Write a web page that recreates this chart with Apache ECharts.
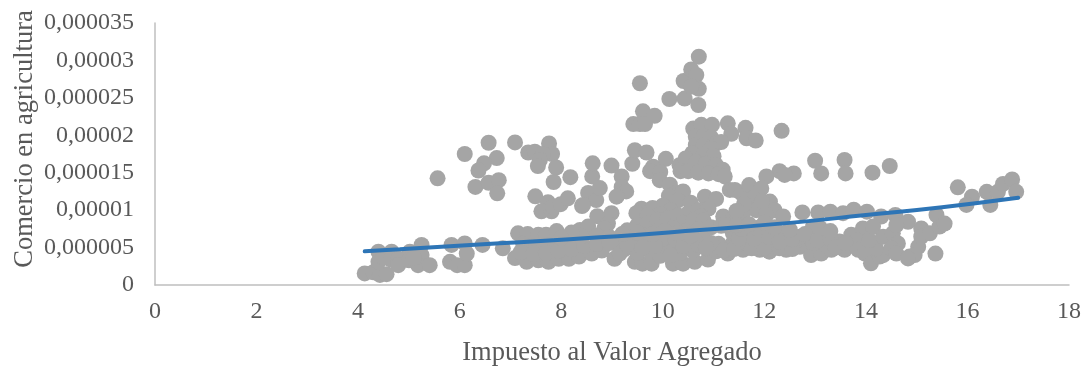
<!DOCTYPE html>
<html lang="es">
<head>
<meta charset="UTF-8">
<title>Comercio en agricultura</title>
<style>
html, body { margin: 0; padding: 0; background: #fff; }
#chart { width: 1085px; height: 367px; }
</style>
<script src="https://cdn.jsdelivr.net/npm/echarts@6/dist/echarts.min.js"></script>
</head>
<body>
<div id="chart"></div>
<script>
// [IVA, comercio in millionths]
var leftPoints = [[4.13,1.55],[4.3,1.7],[4.43,1.35],[4.56,1.45],[4.4,4.45],[4.66,4.45],[4.4,3.1],[4.5,3.7],[4.65,3.4],[4.8,3.5],[4.79,2.65],[5.02,4.45],[5,3.3],[5.25,5.35],[5.25,4],[5.18,2.65],[5.41,2.65],[5.1,3.6],[5.84,5.35],[6.1,5.55],[5.81,3.1],[5.95,2.65],[6.1,2.65],[6.14,4.2],[6.45,5.35],[6.85,4.9]];
var sparsePoints = [[5.565,14.25],[6.1,17.5],[6.57,19],[7.09,19.05],[6.73,16.96],[6.48,16.25],[6.37,15.3],[6.31,13.1],[6.57,13.66],[6.77,14],[6.74,12.25],[7.35,17.7],[7.48,17.8],[7.76,18.9],[7.82,17.5],[7.64,17.5],[7.58,16.7],[7.54,15.9],[7.9,15.7],[7.85,13.76],[8.18,14.4],[7.49,11.85],[7.74,11.05],[7.61,9.84],[7.81,9.84],[7.84,10.46],[7.99,10.8],[8.13,11.58],[8.41,10.55],[8.53,12.3],[8.61,14.5],[8.62,16.25],[8.69,11.35],[8.76,12.95],[8.99,15.95],[9.19,14.5],[9.19,13.1],[9.28,12.5],[9.09,11.8],[8.43,10.7],[8.99,9.6],[8.71,9.2],[8.92,8.2],[9.4,16.2],[9.55,26.95],[9.61,23.2],[9.84,22.6],[9.42,21.5],[9.55,21.5],[9.65,21.5],[9.45,18],[9.68,17.7],[9.81,15.8],[10.06,16.85],[10.13,24.85],[10.43,24.9],[10.41,27.25],[10.56,28.8],[10.66,28.05],[10.71,30.5],[10.71,26.2],[10.56,26.5],[10.7,24.05],[12.34,20.6],[13,16.6],[13.12,14.9],[13.58,16.7],[13.6,14.9],[14.13,15],[14.47,15.9],[12.58,14.9],[12.3,15.2],[12.4,14.7],[12.04,14.5],[11.28,21.6],[11.35,20.2],[11.63,21],[11.65,19.6],[11.83,19.3]];
var peakPoints = [[10.6,20.9],[10.76,21.4],[10.97,21.4],[10.65,19.8],[10.8,19.9],[10.95,19.7],[11.05,18.9],[11.15,19.1],[10.65,18.7],[10.8,18.6],[10.95,18.2],[10.58,17.6],[10.8,17.4],[11,17.2],[10.33,16],[10.45,16.9],[10.65,16.4],[10.85,16.2],[11.05,16],[11.18,15.4],[10.35,15.2],[10.5,15.2],[10.7,15],[10.9,14.9],[11.1,14.8],[11.22,14.5],[9.75,15.2],[9.95,15.1],[9.94,14],[10.14,13.4],[10.27,12.3],[10.4,12.5],[10.12,11.9]];
var upperBand = [[10.83,11.8],[11.05,11.5],[10.3,11.3],[10.55,11],[11.32,12.7],[11.42,12.7],[11.55,12.25],[11.7,13.35],[11.94,12.9],[11.78,11.6],[12.11,11.15],[12.2,10],[12.37,9.15],[11.19,9.15],[11.35,8.7],[11.58,9.6],[11.84,10],[12.04,9.35],[11.6,10.8],[11.45,9.9],[11.95,11.2],[12.75,9.7],[13.06,9.7],[13.3,9.8],[13.55,9.6],[13.76,10.05],[14.02,9.8],[14.3,9.15],[14.58,9.35],[14.83,8.45],[9.58,10.2],[9.48,9.6],[9.8,10.3],[10,10.6],[10.15,10],[9.95,9.5],[9.7,9.3]];
var coreUpper = [[9.3,7.3],[9.5,8],[9.7,8.2],[9.9,8.7],[10.1,8.9],[10.3,9.3],[10.5,9.6],[10.7,10],[10.9,10.2],[10.75,9.2],[10.4,8.3],[10.6,8.6],[10.8,8.6],[10.2,7.6],[10.45,7.2],[10.7,7.4],[10.95,7.7],[11.15,7.9],[9.9,7.2],[9.6,6.6],[9.35,6.2],[9.15,5.9],[8.85,7.55],[8.5,7.1]];
var lowerBand = [[7.15,6.9],[7.34,6.8],[7.55,6.7],[7.7,6.7],[7.91,7.2],[7.25,5.5],[7.5,5.2],[7.75,5.3],[8,5.5],[8.2,6],[8.37,7.35],[8.53,7.8],[8.7,6.6],[8.95,6.4],[7.09,3.6],[7.32,3.1],[7.55,3.3],[7.75,3.1],[7.95,3.5],[8.15,3.5],[8.35,3.8],[8.6,4.2],[8.8,4.6],[7.2,4.4],[7.45,4.2],[7.7,4.3],[7.95,4.6],[8.2,4.8],[8.45,5.2],[8.7,5.5],[8.95,5.6],[9.05,3.5],[9.25,4.8],[9.45,3.1],[9.6,2.85],[9.78,2.85],[9.5,4.3],[9.75,4.6],[9.95,3.9],[10.2,2.85],[10.4,2.85],[10.63,3.1],[10.89,3.4],[10.1,5],[10.35,4.3],[10.6,4.6],[10.85,4.9],[11.05,4.5],[11.28,4.2],[11.58,4.7],[11.91,4.7],[12.1,4.45],[12.43,4.7],[12.7,5.1],[12.92,4],[13.12,4.2],[13.32,4.7],[13.58,4.7],[9.4,5.6],[9.7,5.8],[10,6.2],[10.25,6],[10.55,5.9],[10.8,6.1],[11.1,5.5],[11.38,5.6],[11.65,5.6],[11.95,5.7],[12.2,5.5],[12.45,5.6],[12.65,6],[11.38,6.9],[11.71,6.9],[12.04,7.35],[12.37,6.9],[12.7,6.45],[12.96,7.8],[13.16,6.9],[12.96,5.6],[13.22,5.4],[13.48,5.8],[13.71,6.7],[13.94,7.55],[13.81,6]];
var lowerFill = [[9.15,4.2],[9.3,5.4],[9.6,5],[9.85,5.2],[10.15,4],[10.4,5.2],[10.7,5.4],[10.95,5.6],[11.2,4.6],[11.4,4.8],[11.75,4.9],[12,5],[12.3,4.9],[12.55,4.8],[11.5,6.2],[11.8,6.2],[12.1,6.4],[12.3,5.8],[12.55,6.1],[11.55,7.5],[11.85,7.6],[12.2,7.7],[12.5,7.4],[11.25,8],[11.45,8],[11.7,8.1],[12,8.3],[9.2,6.8],[9.5,7],[9.8,6.8],[10.05,7.2],[10.3,6.9],[10.55,6.6],[10.85,5],[8.4,6.5],[8.2,7],[8,6.3],[12.8,6.8],[13.05,6],[13.3,6.2],[13.4,5],[13.6,5.6],[13.1,7.6],[13.3,7.2]];
var rightPoints = [[13.85,4.7],[13.98,4.2],[14.1,2.9],[14.27,3.8],[14.34,4],[14.2,4.9],[14.07,6],[14.14,7.8],[14.34,6.45],[14.53,6.9],[14.6,8],[14.63,5.55],[14.5,4.9],[14.6,4.2],[14.86,3.8],[15.03,5.1],[14.96,4],[14.83,3.55],[15.09,7.55],[15.09,6.45],[15.26,6.9],[15.45,7.8],[15.39,9.35],[15.55,8.2],[15.37,4.2],[15.81,13.05],[16.09,11.8],[15.98,10.7],[16.38,12.45],[16.45,10.7],[16.6,12.45],[16.7,13.5],[16.88,14.1],[16.96,12.45]];
var trendPoints = [[4.13,4.5],[4.82,4.77],[6.79,5.57],[8.76,6.37],[10.73,7.35],[12.5,8.3],[14,9.35],[15.5,10.4],[17,11.66]];
var yTickLabels = ['0','0,000005','0,00001','0,000015','0,00002','0,000025','0,00003','0,000035'];

var textColor = '#595959';
var serif = '"Liberation Serif", serif';

function toValues(list) {
    return list.map(function (p) { return [p[0], p[1] / 1e6]; });
}

var chart = echarts.init(document.getElementById('chart'));
chart.setOption({
    animation: false,
    grid: { left: 155, right: 16, top: 23, bottom: 82, outerBoundsMode: 'none' },
    xAxis: {
        type: 'value', min: 0, max: 18, interval: 2,
        name: 'Impuesto al Valor Agregado', nameLocation: 'middle', nameGap: 55,
        nameTextStyle: { color: textColor, fontFamily: serif, fontSize: 26.5 },
        splitLine: { show: false }, axisTick: { show: false },
        axisLine: { onZero: false, lineStyle: { color: '#bfbfbf', width: 1.5 } },
        axisLabel: { color: textColor, fontFamily: serif, fontSize: 24, margin: 15, showMaxLabel: true }
    },
    yAxis: {
        type: 'value', min: 0, max: 35e-6, interval: 5e-6,
        name: 'Comercio en agricultura', nameLocation: 'middle', nameGap: 116, nameMoveOverlap: false,
        nameTextStyle: { color: textColor, fontFamily: serif, fontSize: 26.5, padding: [0, 0, 0, 30] },
        splitLine: { show: false }, axisTick: { show: false },
        axisLine: { show: true, lineStyle: { color: '#bfbfbf', width: 1.5 } },
        axisLabel: {
            color: textColor, fontFamily: serif, fontSize: 24, margin: 21,
            formatter: function (v) { return yTickLabels[Math.round(v / 5e-6)]; }
        }
    },
    series: [
        {
            type: 'scatter', symbolSize: 16, itemStyle: { color: '#a5a5a5', opacity: 1 },
            data: toValues([].concat(leftPoints, sparsePoints, peakPoints, upperBand, coreUpper, lowerBand, lowerFill, rightPoints))
        },
        {
            type: 'line', smooth: true, symbol: 'none', z: 5,
            lineStyle: { color: '#2e75b6', width: 4, cap: 'round' },
            data: toValues(trendPoints)
        }
    ]
});
</script>
</body>
</html>
